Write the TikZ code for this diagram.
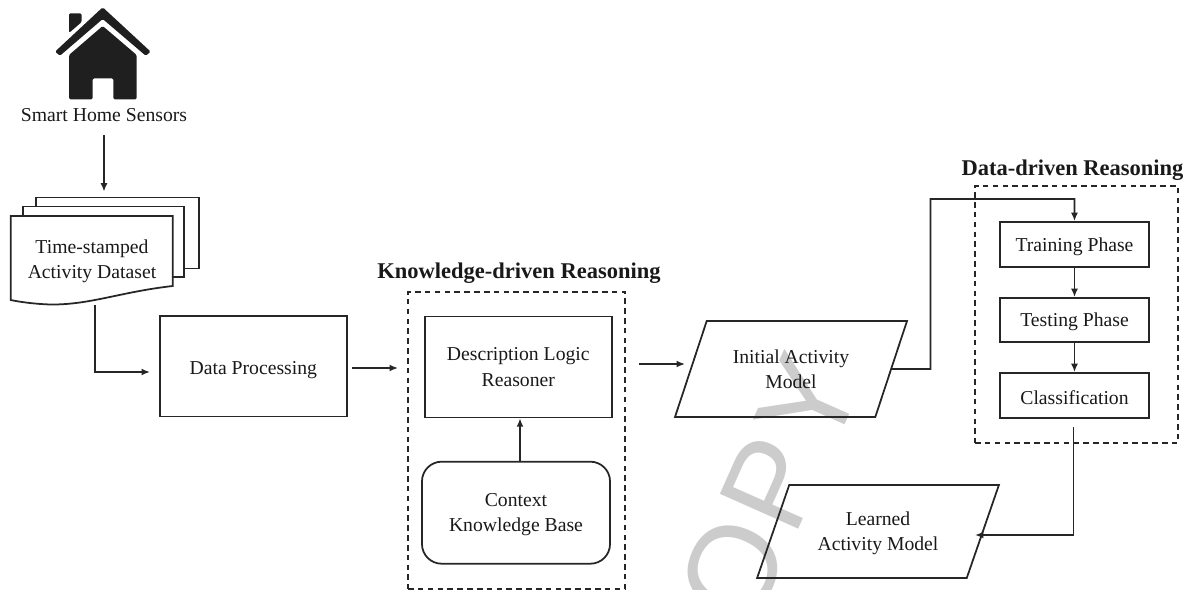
\documentclass[tikz,border=0pt]{standalone}
\usepackage{fontspec}
\setmainfont{Liberation Serif}
\newfontfamily\markfont{Liberation Sans}
\usetikzlibrary{arrows.meta,shapes.geometric}

\tikzset{
    inkline/.style={draw=black!85, line width=1.25pt},
    labeltext/.style={align=center, font=\fontsize{14}{18}\selectfont, text=black!90},
    titletext/.style={font=\fontsize{16}{18}\selectfont\bfseries, text=black!90},
    flowbox/.style={shape=rectangle, inkline, labeltext, text depth=0pt},
    dashframe/.style={shape=rectangle, draw=black!85, line width=1.1pt, dash pattern=on 4pt off 3pt},
    database/.style={shape=rectangle, inkline, labeltext, text depth=0pt, rounded corners=14pt},
    slantbox/.style={shape=trapezium, trapezium left angle=64, trapezium right angle=116,
        trapezium stretches=true, inkline, labeltext},
    sheet/.style={shape=rectangle, inkline, fill=white},
    flowarrow/.style={draw=black!85, line width=1.2pt, -{Latex[length=6pt,width=5pt]}},
}

\begin{document}
\begin{tikzpicture}[x=0.025cm,y=-0.025cm]
    \useasboundingbox (0,0) rectangle (1196,590);

    % watermark
    \begin{scope}
        \clip (0,0) rectangle (1196,590);
        \node[rotate=66, anchor=base west, inner sep=0, text=black!20,
            font=\markfont\fontsize{88.6}{100}\selectfont] (stamp) at (752.7,632.2) {O\kern4pt P\kern3.5pt Y};
    \end{scope}

    % house
    \fill[black!88, rounded corners=1pt] (69,13.3) -- (81.7,13.3) -- (81.7,22) -- (69,33) -- cycle;
    \fill[black!88, rounded corners=1pt] (102.7,7.3) -- (150.7,51.7) -- (145.7,55.7) -- (102.7,19)
        -- (60,55.7) -- (55,51.7) -- cycle;
    \fill[black!88, rounded corners=1pt] (102.7,26) -- (136.7,55) -- (136.7,99.3) -- (113.3,99.3)
        -- (113.3,78.3) -- (92.7,78.3) -- (92.7,99.3) -- (69,99.3) -- (69,55) -- cycle;
    \node[labeltext] (sensors) at (104,115) {Smart Home Sensors};

    % stacked pages
    \node[sheet, minimum width=4.07cm, minimum height=1.78cm] (sheetback) at (117.3,233) {};
    \node[sheet, minimum width=4.02cm, minimum height=1.76cm] (sheetmid) at (103.6,241.8) {};
    \draw[inkline, fill=white] (10.7,216) -- (172.7,216) -- (172.7,286)
        .. controls (120,292) and (90,305) .. (50,304.5)
        .. controls (35,304) and (20,302) .. (10.7,300) -- cycle;
    \node[labeltext] (dataset) at (92,261.5) {Time-stamped\\Activity Dataset};

    % main boxes
    \node[flowbox, text height=12pt, minimum width=4.675cm, minimum height=2.52cm] (process) at (253.3,366.2) {Data Processing};
    \node[dashframe, minimum width=5.425cm, minimum height=7.425cm] (kframe) at (516.5,440.3) {};
    \node[titletext] (ktitle) at (519,273) {Knowledge-driven Reasoning};
    \node[flowbox, minimum width=4.675cm, minimum height=2.52cm] (reasoner) at (518.3,367) {Description Logic\\Reasoner};
    \node[database, minimum width=4.7cm, minimum height=2.55cm] (context) at (516,512.7) {Context\\Knowledge Base};
    \node[slantbox, minimum width=5.8cm, minimum height=2.4cm] (initial) at (791,369) {Initial Activity\\Model};
    \node[slantbox, text depth=0pt, minimum width=6.05cm, minimum height=2.325cm] (learned) at (878,531.5) {Learned\\Activity Model};

    % data-driven part
    \node[dashframe, minimum width=5.075cm, minimum height=6.425cm] (dframe) at (1076.5,314.5) {};
    \node[titletext] (dtitle) at (1072.5,170) {Data-driven Reasoning};
    \node[flowbox, minimum width=3.725cm, minimum height=1.125cm] (train) at (1074.5,244.5) {Training Phase};
    \node[flowbox, minimum width=3.725cm, minimum height=1.1cm] (test) at (1074.5,320) {Testing Phase};
    \node[flowbox, text height=12.5pt, minimum width=3.725cm, minimum height=1.125cm] (classify) at (1074.5,395.5) {Classification};

    % free ends of the connectors
    \coordinate (dataout) at (94.7,305);
    \coordinate (procin) at (150,372);
    \coordinate (procout) at (352,368);
    \coordinate (kin) at (398,368);
    \coordinate (kout) at (639,364);
    \coordinate (initin) at (685,364);
    \coordinate (classout) at (1073.5,427);
    \coordinate (learnin) at (975,535);
    \coordinate (bendup) at (930.5,369);
    \coordinate (bendtop) at (930.5,199);

    \path (sensors.south) edge[flowarrow, shorten <=6pt, shorten >=3.5pt] (sensors.south |- sheetback.north);
    \draw[flowarrow] (dataout) |- (procin);
    \path (procout) edge[flowarrow] (kin);
    \path (context.north -| 520,0) edge[flowarrow] (reasoner.south -| 520,0);
    \path (kout) edge[flowarrow] (initin);
    \draw[flowarrow] (initial.east) -- (bendup) -- (bendtop) -- (train.north |- bendtop) -- (train.north);
    \path (train) edge[flowarrow] (test);
    \path (test) edge[flowarrow] (classify);
    \draw[flowarrow] (classout) |- (learnin);
\end{tikzpicture}
\end{document}
